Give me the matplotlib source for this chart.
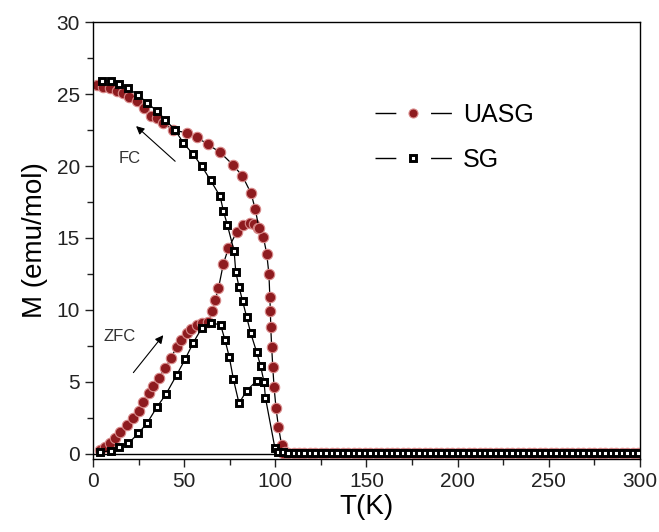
import matplotlib
matplotlib.use("Agg")
import matplotlib.pyplot as plt
from matplotlib.lines import Line2D
from matplotlib.ticker import MultipleLocator

plt.rcParams['font.family'] = ['Liberation Sans', 'DejaVu Sans']

# UASG, field cooled
uasg_fc_T = [2.0, 5.5, 9.3, 13.0, 16.6, 20.0, 24.0, 28.0, 32.0, 35.0, 38.5, 44.0,
             51.4, 57.0, 63.0, 69.7, 76.6, 82.0, 86.7, 89.0, 91.0]
uasg_fc_M = [25.6, 25.5, 25.4, 25.2, 25.05, 24.8, 24.5, 24.0, 23.5, 23.3, 23.0, 22.5,
             22.3, 22.0, 21.5, 20.95, 20.1, 19.3, 18.1, 17.0, 15.7]

# UASG, zero field cooled
uasg_zfc_T = [3.8, 6.5, 9.3, 12.0, 14.8, 18.5, 22.0, 25.0, 27.6, 30.5, 33.0, 36.0,
              39.5, 43.0, 45.9, 48.5, 51.4, 54.0, 56.9, 60.0, 63.3, 65.5, 67.0, 68.8,
              71.5, 74.3, 78.8, 82.5, 86.1, 88.5, 90.7, 93.4, 95.3, 96.5, 97.0, 97.3,
              97.5, 98.0, 98.6, 99.3, 100.4, 101.7, 103.5, 105.5]
uasg_zfc_M = [0.28, 0.5, 0.74, 1.1, 1.55, 2.0, 2.5, 3.0, 3.6, 4.2, 4.7, 5.3,
              5.95, 6.7, 7.45, 7.9, 8.4, 8.7, 8.96, 9.1, 9.19, 9.9, 10.7, 11.5,
              13.2, 14.3, 15.4, 15.9, 16.06, 16.0, 15.7, 15.1, 13.9, 12.5, 10.9, 9.9,
              8.8, 7.45, 6.06, 4.67, 3.17, 1.9, 0.6, 0.15]

# SG, field cooled
sg_fc_T = [4.8, 9.7, 14.4, 19.4, 24.9, 29.8, 35.0, 39.7, 45.0, 49.6, 55.0, 59.6,
           64.5, 69.7, 71.5, 73.7, 77.4, 78.3, 80.1, 82.1, 84.3, 86.5, 89.7, 91.9,
           93.8, 94.6, 99.8, 101.5]
sg_fc_M = [25.9, 25.9, 25.7, 25.4, 24.9, 24.4, 23.8, 23.2, 22.5, 21.6, 20.8, 20.0,
           19.0, 17.9, 16.9, 15.9, 14.1, 12.66, 11.6, 10.6, 9.5, 8.4, 7.1, 6.13,
           5.0, 3.9, 0.4, 0.15]

# SG, zero field cooled
sg_zfc_T = [3.8, 9.7, 14.4, 19.4, 24.9, 29.8, 35.0, 40.1, 45.9, 50.5, 55.0, 59.6,
            64.5, 70.0, 72.4, 74.8, 77.0, 80.1, 84.3, 89.7, 93.8]
sg_zfc_M = [0.12, 0.23, 0.5, 0.74, 1.43, 2.17, 3.24, 4.17, 5.49, 6.57, 7.73, 8.73,
            9.12, 8.96, 7.92, 6.71, 5.2, 3.52, 4.4, 5.07, 5.0]

# paramagnetic tail above the transition (both samples ~0)
tail_T = [104, 107, 110, 113, 116, 119, 122, 125, 128, 131, 134, 137, 140, 143,
          146, 149, 152, 155, 158, 161, 164, 167, 170, 173, 176, 179, 182, 185,
          188, 191, 194, 197, 200, 203, 206, 209, 212, 215, 218, 221, 224, 227,
          230, 233, 236, 239, 242, 245, 248, 251, 254, 257, 260, 263, 266, 269,
          272, 275, 278, 281, 284, 287, 290, 293, 296, 299]
tail_uasg_M = [0.1, 0.08, 0.07, 0.07, 0.06, 0.06, 0.06, 0.05, 0.05, 0.05, 0.05,
               0.05, 0.05, 0.05, 0.05, 0.05, 0.05, 0.05, 0.05, 0.05, 0.05, 0.05,
               0.05, 0.05, 0.05, 0.05, 0.05, 0.05, 0.05, 0.05, 0.05, 0.05, 0.05,
               0.05, 0.05, 0.05, 0.05, 0.05, 0.05, 0.05, 0.05, 0.05, 0.05, 0.05,
               0.05, 0.05, 0.05, 0.05, 0.05, 0.05, 0.05, 0.05, 0.05, 0.05, 0.05,
               0.05, 0.05, 0.05, 0.05, 0.05, 0.05, 0.05, 0.05, 0.05, 0.05, 0.05]
tail_sg_M = [0.12, 0.1, 0.08, 0.07, 0.06, 0.06, 0.05, 0.05, 0.05, 0.05, 0.05,
             0.05, 0.05, 0.05, 0.05, 0.05, 0.05, 0.05, 0.05, 0.05, 0.05, 0.05,
             0.05, 0.05, 0.05, 0.05, 0.05, 0.05, 0.05, 0.05, 0.05, 0.05, 0.05,
             0.05, 0.05, 0.05, 0.05, 0.05, 0.05, 0.05, 0.05, 0.05, 0.05, 0.05,
             0.05, 0.05, 0.05, 0.05, 0.05, 0.05, 0.05, 0.05, 0.05, 0.05, 0.05,
             0.05, 0.05, 0.05, 0.05, 0.05, 0.05, 0.05, 0.05, 0.05, 0.05, 0.05]

red = '#8e1b1f'
red_edge = '#d98a8a'
circ = dict(color='k', lw=0.9, marker='o', ms=7.5, mfc=red, mec=red_edge, mew=0.8)
sq = dict(color='k', lw=0.9, marker='s', ms=5, mfc='white', mec='black', mew=2.1)

fig = plt.figure(figsize=(6.59, 5.32), dpi=100)
ax = fig.add_axes([0.1411, 0.1372, 0.8300, 0.8214])

ax.axhline(0, color='k', lw=1.0, zorder=1)

ax.plot(sg_zfc_T, sg_zfc_M, **sq, zorder=3)
ax.plot(sg_fc_T, sg_fc_M, **sq, zorder=3)
ax.plot(tail_T, tail_sg_M, **sq, zorder=3)
ax.plot(uasg_zfc_T, uasg_zfc_M, **circ, zorder=2)
ax.plot(uasg_fc_T, uasg_fc_M, **circ, zorder=2)
ax.plot(tail_T, tail_uasg_M, **circ, zorder=2)

ax.annotate('', xy=(22.5, 22.9), xytext=(46.2, 20.2),
            arrowprops=dict(arrowstyle='-|>', color='k', lw=0.8, mutation_scale=12))
ax.text(20.3, 20.55, 'FC', fontsize=12, ha='center', va='center', color='#333333')
ax.annotate('', xy=(39.5, 8.4), xytext=(21.2, 5.5),
            arrowprops=dict(arrowstyle='-|>', color='k', lw=0.8, mutation_scale=12))
ax.text(14.8, 8.15, 'ZFC', fontsize=12, ha='center', va='center', color='#333333')

ax.set_xlim(0, 300)
ax.set_ylim(-0.35, 30)
ax.xaxis.set_major_locator(MultipleLocator(50))
ax.xaxis.set_minor_locator(MultipleLocator(25))
ax.yaxis.set_major_locator(MultipleLocator(5))
ax.yaxis.set_minor_locator(MultipleLocator(2.5))
ax.tick_params(which='both', direction='out', labelsize=15, width=1.0, colors='#222222')
ax.tick_params(which='major', length=6)
ax.tick_params(which='minor', length=4)
for s in ax.spines.values():
    s.set_linewidth(1.0)

ax.set_xlabel('T(K)', fontsize=20, labelpad=2)
ax.set_ylabel('M (emu/mol)', fontsize=20, labelpad=6)

handles = [
    Line2D([], [], color='k', lw=1, ls=(0, (15, 25)), marker='o', ms=6.5,
           mfc=red, mec=red_edge, mew=0.8),
    Line2D([], [], color='k', lw=1, ls=(0, (15, 25)), marker='s', ms=5,
           mfc='white', mec='black', mew=2.1),
]
ax.legend(handles, ['UASG', 'SG'], loc='upper left', bbox_to_anchor=(0.515, 0.815),
          frameon=False, fontsize=18, handlelength=3.08, handletextpad=0.45,
          numpoints=1, borderpad=0, borderaxespad=0, labelspacing=0.85)

fig.savefig('out.png', dpi=100)
